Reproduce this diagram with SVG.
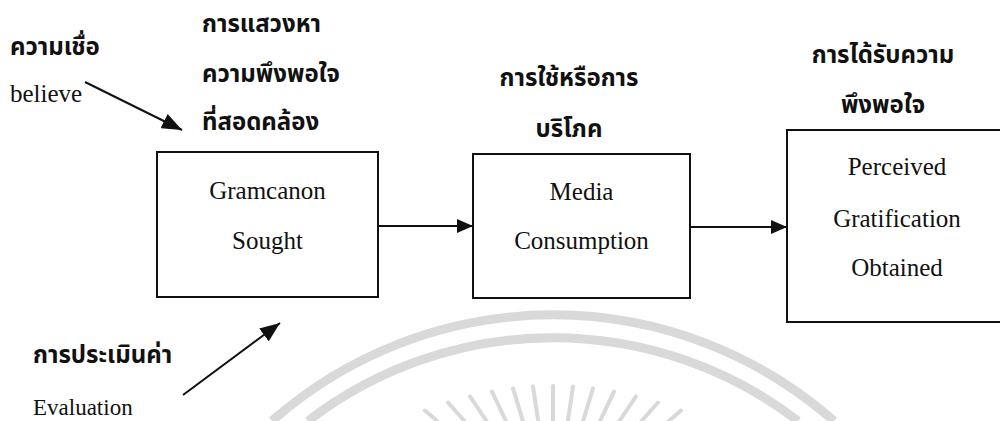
<svg xmlns="http://www.w3.org/2000/svg" width="1000" height="421" viewBox="0 0 1000 421">
  <style>
    .box { fill: none; stroke: #111; stroke-width: 2; }
    .en { font-family: "Liberation Serif", "Times New Roman", serif; font-size: 25px; fill: #111; }
    .sm { font-size: 23px; }
    .th { font-family: "Noto Sans Thai", "Noto Serif Thai", "Loma", "Garuda", "Tlwg Typo", "DejaVu Sans", sans-serif; font-size: 24px; font-weight: bold; fill: #111; }
    .conn { stroke: #111; stroke-width: 2; fill: none; }
    .wm { stroke: #d9d9d9; fill: none; }
  </style>
  <defs>
    <marker id="ah" markerUnits="userSpaceOnUse" markerWidth="16" markerHeight="14" refX="16" refY="7" orient="auto">
      <path d="M0,0 L16,7 L0,14 z" fill="#111"/>
    </marker>
    <marker id="ahd" markerUnits="userSpaceOnUse" markerWidth="20" markerHeight="16" refX="20" refY="8" orient="auto">
      <path d="M0,0 L20,8 L0,16 z" fill="#111"/>
    </marker>
  </defs>
  <rect x="0" y="0" width="1000" height="421" fill="#ffffff"/>

  <g id="watermark">
    <path class="wm" stroke-width="9" d="M272,421 A425,425 0 0 1 834,421"/>
    <path class="wm" stroke-width="9" d="M308,421 A402,402 0 0 1 798,421"/>
    <g class="wm" stroke-width="4" stroke-linecap="round">
      <line x1="425" y1="410.6" x2="437.2" y2="421"/>
      <line x1="448" y1="402.5" x2="464.5" y2="421"/>
      <line x1="470" y1="396.3" x2="486.6" y2="421"/>
      <line x1="492" y1="391.6" x2="506" y2="421"/>
      <line x1="513" y1="388.4" x2="522.9" y2="421"/>
      <line x1="533" y1="386.6" x2="538.2" y2="421"/>
      <line x1="553" y1="386" x2="553" y2="421"/>
      <line x1="573" y1="386.6" x2="567.8" y2="421"/>
      <line x1="593" y1="388.4" x2="583.1" y2="421"/>
      <line x1="614" y1="391.6" x2="600" y2="421"/>
      <line x1="636" y1="396.3" x2="619.4" y2="421"/>
      <line x1="658" y1="402.5" x2="641.5" y2="421"/>
      <line x1="681" y1="410.6" x2="668.8" y2="421"/>
    </g>
  </g>

  <g id="connectors">
    <line class="conn" x1="378" y1="226" x2="473" y2="226" marker-end="url(#ah)"/>
    <line class="conn" x1="690" y1="227" x2="787" y2="227" marker-end="url(#ah)"/>
    <line class="conn" x1="85" y1="82" x2="182" y2="130" marker-end="url(#ahd)"/>
    <line class="conn" x1="183" y1="395" x2="280" y2="323" marker-end="url(#ahd)"/>
  </g>

  <g id="node-sought">
    <rect class="box" x="157" y="152" width="221" height="145"/>
    <text class="en" x="267.5" y="199" text-anchor="middle">Gramcanon</text>
    <text class="en" x="267.5" y="249" text-anchor="middle">Sought</text>
  </g>

  <g id="node-consumption">
    <rect class="box" x="473" y="154" width="217" height="144"/>
    <text class="en" x="581.5" y="200" text-anchor="middle">Media</text>
    <text class="en" x="581.5" y="249" text-anchor="middle">Consumption</text>
  </g>

  <g id="node-obtained">
    <rect class="box" x="787" y="130" width="220" height="192"/>
    <text class="en" x="897" y="175" text-anchor="middle">Perceived</text>
    <text class="en" x="897" y="227" text-anchor="middle">Gratification</text>
    <text class="en" x="897" y="276" text-anchor="middle">Obtained</text>
  </g>

  <g id="label-believe">
    <text class="th" x="10" y="55">ความเชื่อ</text>
    <text class="en" x="10" y="102" font-size="24">believe</text>
  </g>

  <g id="label-sought">
    <text class="th" x="202" y="32">การแสวงหา</text>
    <text class="th" x="202" y="82">ความพึงพอใจ</text>
    <text class="th" x="202" y="130">ที่สอดคล้อง</text>
  </g>

  <g id="label-consumption">
    <text class="th" x="569" y="86" text-anchor="middle">การใช้หรือการ</text>
    <text class="th" x="569" y="137" text-anchor="middle">บริโภค</text>
  </g>

  <g id="label-obtained">
    <text class="th" x="883" y="63" text-anchor="middle">การได้รับความ</text>
    <text class="th" x="883" y="113" text-anchor="middle">พึงพอใจ</text>
  </g>

  <g id="label-evaluation">
    <text class="th" x="33" y="363">การประเมินค่า</text>
    <text class="en sm" x="33" y="415">Evaluation</text>
  </g>
</svg>
